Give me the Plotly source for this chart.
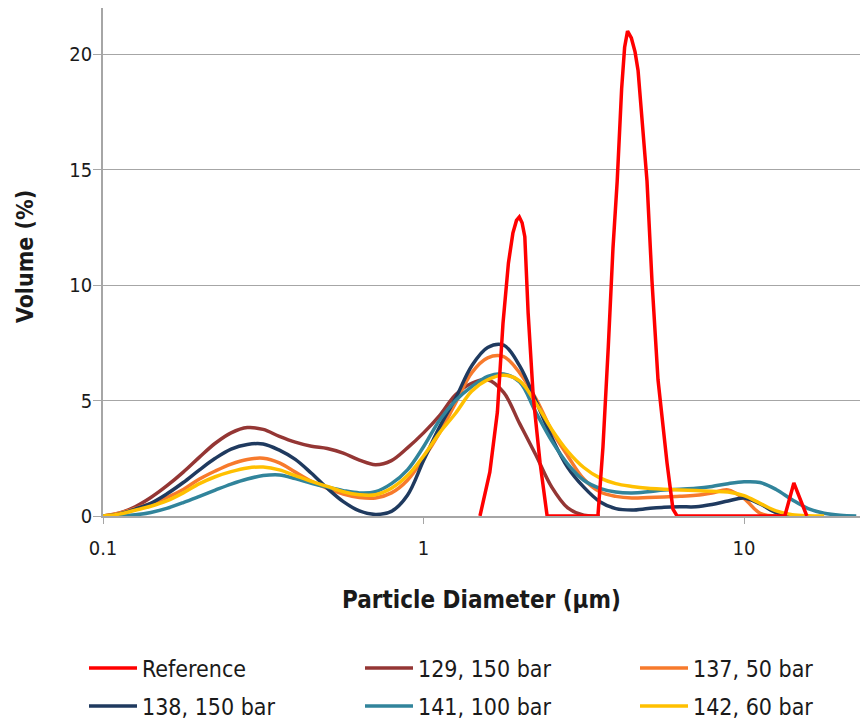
import math
import plotly.graph_objects as go

# Particle size classes (µm), 20 classes per decade
size_um = [0.100, 0.112, 0.126, 0.141, 0.158, 0.178, 0.200, 0.224, 0.251, 0.282,
           0.316, 0.355, 0.398, 0.447, 0.501, 0.562, 0.631, 0.708, 0.794, 0.891,
           1.000, 1.122, 1.259, 1.413, 1.585, 1.778, 1.995, 2.239, 2.512, 2.818,
           3.162, 3.548, 3.981, 4.467, 5.012, 5.623, 6.310, 7.079, 7.943, 8.913,
           10.00, 11.22, 12.59, 14.13, 15.85, 17.78, 19.95, 22.39]

vol_129_150 = [0, 0.12, 0.4, 0.8, 1.3, 1.9, 2.55, 3.15, 3.6, 3.83,
               3.75, 3.45, 3.2, 3.02, 2.92, 2.72, 2.42, 2.22, 2.4, 2.95,
               3.6, 4.35, 5.25, 5.75, 5.9, 5.35, 4.0, 2.65, 1.25, 0.35,
               0.03, 0.0, None, None, None, None, None, None, None, None,
               None, None, None, None, None, None, None, None]

vol_137_50 = [0, 0.12, 0.33, 0.55, 0.8, 1.15, 1.6, 1.95, 2.25, 2.45,
              2.5, 2.3, 1.9, 1.5, 1.2, 0.95, 0.8, 0.78, 1.0, 1.55,
              2.5, 3.6, 4.9, 6.2, 6.85, 6.9, 6.2, 5.1, 3.7, 2.6,
              1.6, 1.05, 0.85, 0.78, 0.8, 0.82, 0.85, 0.9, 1.0, 1.13,
              0.75, 0.12, 0.0, None, None, None, None, None]

vol_138_150 = [0, 0.08, 0.3, 0.55, 0.95, 1.45, 2.0, 2.5, 2.9, 3.1,
               3.12, 2.85, 2.45, 1.85, 1.2, 0.62, 0.22, 0.07, 0.2, 0.9,
               2.4, 3.85, 5.1, 6.5, 7.3, 7.4, 6.5, 5.0, 3.4, 2.1,
               1.25, 0.62, 0.32, 0.26, 0.32, 0.38, 0.4, 0.4, 0.5, 0.65,
               0.78, 0.52, 0.15, 0.0, None, None, None, None]

vol_141_100 = [0, 0.0, 0.05, 0.15, 0.33, 0.58, 0.85, 1.12, 1.38, 1.6,
               1.75, 1.78, 1.62, 1.42, 1.25, 1.1, 1.0, 1.05, 1.4, 2.0,
               3.0, 4.15, 5.0, 5.6, 6.05, 6.15, 5.8, 4.5, 3.25, 2.25,
               1.55, 1.2, 1.04, 1.0, 1.05, 1.13, 1.16, 1.2, 1.28, 1.4,
               1.48, 1.45, 1.15, 0.7, 0.32, 0.12, 0.03, 0.0]

vol_142_60 = [0, 0.08, 0.25, 0.42, 0.65, 1.0, 1.4, 1.7, 1.92, 2.08,
              2.12, 2.0, 1.75, 1.5, 1.28, 1.05, 0.92, 0.92, 1.2, 1.75,
              2.6, 3.6, 4.45, 5.4, 5.9, 6.1, 5.85, 4.9, 3.75, 2.8,
              2.1, 1.65, 1.4, 1.28, 1.2, 1.16, 1.13, 1.1, 1.07, 1.04,
              0.88, 0.55, 0.22, 0.06, 0.01, 0.0, None, None]

# Reference powder, measured on its own size points
ref_um = [1.50, 1.61, 1.70, 1.77, 1.84, 1.90, 1.95, 1.99, 2.03, 2.07,
          2.12, 2.20, 2.31, 2.43, 3.50, 3.63, 3.77, 3.90, 4.02, 4.15,
          4.24, 4.33, 4.45, 4.57, 4.67, 4.98, 5.16, 5.39, 5.75, 6.00,
          6.18, 13.4, 13.9, 14.3, 14.8, 15.7]
ref_vol = [0, 1.9, 4.5, 8.35, 10.95, 12.25, 12.8, 12.95, 12.7, 12.1,
           8.8, 5.15, 2.3, 0, 0, 3.0, 7.3, 11.6, 14.5, 18.5,
           20.3, 21.0, 20.7, 20.1, 19.3, 14.5, 10.2, 5.9, 2.3, 0.3,
           0, 0, 0.8, 1.43, 0.9, 0]

y_ticks = [0, 5, 10, 15, 20]
x_ticks = [0.1, 1, 10]
x_tick_labels = ["0.1", "1", "10"]

FONT = "DejaVu Sans Condensed, Liberation Sans Narrow, Lato, sans-serif"
TEXT = "#1a1a1a"
GRID = "#a6a6a6"

series = [
    ("Reference", ref_um, ref_vol, "#ff0000", "linear", "legend"),
    ("129, 150 bar", size_um, vol_129_150, "#943634", "spline", "legend2"),
    ("137, 50 bar", size_um, vol_137_50, "#f77a2c", "spline", "legend3"),
    ("138, 150 bar", size_um, vol_138_150, "#1f3a5f", "spline", "legend4"),
    ("141, 100 bar", size_um, vol_141_100, "#31849b", "spline", "legend5"),
    ("142, 60 bar", size_um, vol_142_60, "#ffc000", "spline", "legend6"),
]

fig = go.Figure()
# sample curves first, reference drawn on top
draw_order = [1, 2, 3, 4, 5, 0]
for i in draw_order:
    name, xs, ys, color, shape, leg = series[i]
    fig.add_trace(go.Scatter(
        x=xs, y=ys, name=name, mode="lines",
        line=dict(color=color, width=3.5, shape=shape),
        legend=leg, connectgaps=False,
    ))

W, H = 861, 722
# legend entries laid out in 3 columns x 2 rows (pixel anchor of each entry)
legend_pos = {
    "legend": (84, 668), "legend2": (360, 668), "legend3": (635, 668),
    "legend4": (84, 706), "legend5": (360, 706), "legend6": (635, 706),
}
legend_layout = {}
for key, (px, py) in legend_pos.items():
    legend_layout[key] = dict(
        x=px / W, y=1 - py / H, xref="container", yref="container",
        xanchor="left", yanchor="middle", bgcolor="rgba(0,0,0,0)",
        font=dict(family=FONT, size=23, color=TEXT), itemwidth=48,
    )

fig.update_layout(
    width=W, height=H,
    margin=dict(l=103, r=1, t=8, b=206, autoexpand=False),
    paper_bgcolor="white", plot_bgcolor="white",
    font=dict(family=FONT, color=TEXT),
    showlegend=True,
    **legend_layout,
)

fig.add_annotation(
    text="<b>Volume (%)</b>", textangle=-90,
    xref="paper", yref="paper", x=(25 - 103) / 758, y=(516 - 257) / 508,
    xanchor="center", yanchor="middle", showarrow=False,
    font=dict(family=FONT, size=23, color=TEXT),
)

fig.update_xaxes(
    type="log", range=[-1, math.log10(23.0)],
    tickvals=x_ticks, ticktext=x_tick_labels, tickangle=0,
    ticks="outside", ticklen=6, tickcolor=GRID, tickwidth=1,
    ticklabelstandoff=7,
    showline=True, linecolor=GRID, linewidth=1.5,
    showgrid=False, zeroline=False,
    tickfont=dict(family=FONT, size=20, color=TEXT),
    title=dict(text="<b>Particle Diameter (µm)</b>",
               font=dict(family=FONT, size=24, color=TEXT), standoff=32),
)
fig.update_yaxes(
    range=[0, 22], tickvals=y_ticks,
    ticks="outside", ticklen=8, tickcolor=GRID, tickwidth=1,
    ticklabelstandoff=-3,
    showline=True, linecolor=GRID, linewidth=1.5,
    showgrid=True, gridcolor=GRID, gridwidth=1.2, zeroline=False,
    tickfont=dict(family=FONT, size=20, color=TEXT),
)

fig.write_html("out.html")
